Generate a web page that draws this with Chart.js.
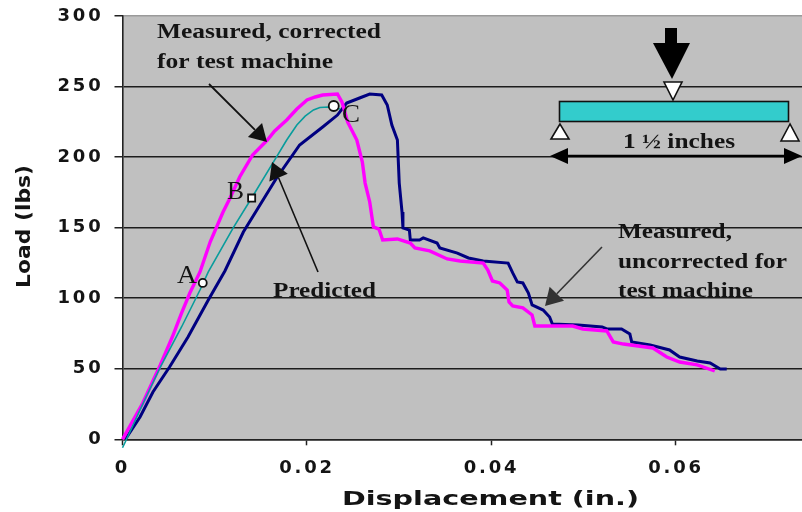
<!DOCTYPE html>
<html>
<head>
<meta charset="utf-8">
<style>
html, body { margin: 0; background: #fff; }
canvas { display: block; filter: blur(0.4px); }
</style>
<script src="https://cdn.jsdelivr.net/npm/chart.js@4"></script>
</head>
<body>
<canvas id="chart" width="802" height="512"></canvas>
<script>
// values
const correctedX = [0, .0022, .0041, .0054, .0064, .0073, .0084, .0095, .0109, .0117, .0127, .0141, .0157, .0165, .0178, .0189, .02, .0209, .0217, .0233, .0238, .0244, .0254, .026, .0263, .0268, .0272, .0278, .0282, .0298, .0312, .0317, .0333, .0352, .0366, .0391, .0396, .0401, .0409, .0417, .0419, .0423, .0434, .0444, .0447, .0474, .0488, .0499, .0525, .0532, .0543, .0575, .059, .0604, .0623, .0642]
const correctedY = [0, 25.7, 52.7, 72.5, 89.5, 103.7, 118.6, 139.8, 161.1, 171.6, 185.9, 201.5, 212.1, 218.5, 226.3, 234.1, 240.5, 242.6, 244, 244.7, 239, 224.9, 212.1, 196.5, 181.6, 168.2, 150.5, 149, 141.2, 142, 139.1, 135.6, 133.5, 127.8, 126.4, 124.9, 120, 112.2, 110.8, 105.8, 97.3, 94.5, 93.1, 88.1, 80.3, 80.3, 80.3, 78.2, 76.8, 69, 67.5, 64.7, 58.3, 54.8, 52.7, 48.4]

const uncorrectedX = [.0003, .0019, .0033, .0051, .0071, .0093, .0111, .0131, .0149, .0167, .0192, .0217, .0233, .0243, .0257, .0268, .0281, .0287, .0292, .0298, .03, .0303, .0304, .0311, .0312, .0322, .0326, .0341, .0344, .0363, .0375, .0391, .0418, .0423, .0428, .0434, .044, .0444, .0456, .0463, .0466, .0494, .052, .0525, .0541, .055, .0552, .0572, .0593, .0604, .0623, .0637, .0648, .0655]
const uncorrectedY = [0, 15.8, 33.5, 51.2, 72.5, 98.7, 119.3, 146.9, 166.1, 185.2, 208.6, 221.3, 229.8, 238.3, 241.9, 244.7, 244, 236.9, 222.7, 212.1, 181.6, 161.1, 149.8, 148.3, 141.2, 141.2, 142.7, 139.1, 135.6, 132, 128.5, 126.4, 124.9, 117.9, 111.5, 110.8, 103.7, 95.2, 91.6, 86.7, 81.7, 81, 79.6, 78.2, 78.2, 74.6, 69, 66.8, 63.3, 58.3, 55.5, 54.1, 49.8, 49.8]

const predictedX = [0, .0003, .0019, .0041, .0064, .0084, .0093, .012, .014, .0167, .0178, .0189, .0198, .0207, .0214, .0223, .0236]
const predictedY = [-6, -1.9, 20.8, 51.2, 79.6, 105.8, 118.6, 149.8, 171, 200.1, 212.1, 222.7, 229, 233.4, 235.1, 235.5, 234.1]

const pointX = [.0087, .014, .0229]
const pointY = [110.8, 171, 236.2]
const pointShape = ["circle", "rect", "circle"]
const pointSize = [4, 5, 5]

const xTicks = [0, .02, .04, .06]
const yTicks = [0, 50, 100, 150, 200, 250, 300]

function toXY(xs, ys) {
    return xs.map((x, i) => ({ x: x, y: ys[i] }))
}

const serif = '"Liberation Serif"'
const sans = '"DejaVu Sans"'
const ink = "#141414"

// text stretched sideways to a given width, the source picture is widened
function wideText(ctx, text, x, y, font, width, color) {
    ctx.save()
    ctx.font = font
    ctx.fillStyle = color || ink
    ctx.textAlign = "left"
    ctx.textBaseline = "alphabetic"
    let w = ctx.measureText(text).width
    ctx.translate(x, y)
    ctx.scale(width / w, 1)
    ctx.fillText(text, 0, 0)
    ctx.restore()
}

function arrow(ctx, x1, y1, x2, y2, len, half, lineW, color) {
    let a = Math.atan2(y2 - y1, x2 - x1)
    let bx = x2 - Math.cos(a) * len
    let by = y2 - Math.sin(a) * len
    ctx.strokeStyle = color
    ctx.fillStyle = color
    ctx.lineWidth = lineW
    ctx.beginPath()
    ctx.moveTo(x1, y1)
    ctx.lineTo(bx, by)
    ctx.stroke()
    ctx.beginPath()
    ctx.moveTo(x2, y2)
    ctx.lineTo(bx - Math.sin(a) * half, by + Math.cos(a) * half)
    ctx.lineTo(bx + Math.sin(a) * half, by - Math.cos(a) * half)
    ctx.closePath()
    ctx.fill()
}

function triangle(ctx, x1, y1, x2, y2, x3, y3) {
    ctx.beginPath()
    ctx.moveTo(x1, y1)
    ctx.lineTo(x2, y2)
    ctx.lineTo(x3, y3)
    ctx.closePath()
    ctx.fillStyle = "#fff"
    ctx.strokeStyle = "#111"
    ctx.lineWidth = 1.6
    ctx.fill()
    ctx.stroke()
}

// layout leaves a few px on the right, the plot runs to the canvas edge here
const fullWidth = {
    id: "fullWidth",
    afterLayout(chart) {
        let x = chart.scales.x
        chart.chartArea.right = chart.width
        chart.chartArea.width = chart.width - chart.chartArea.left
        x.right = chart.width
        x.width = chart.width - x.left
        x.configure()
    }
}

const plotBack = {
    id: "plotBack",
    beforeDraw(chart) {
        let c = chart.ctx
        let a = chart.chartArea
        c.save()
        c.fillStyle = "#c0c0c0"
        c.fillRect(a.left, a.top, a.right - a.left, a.bottom - a.top)
        c.restore()
        // tick labels in the source are wider than any installed font
        c.letterSpacing = "2.8px"
    }
}

const notes = {
    id: "notes",
    afterDraw(chart) {
        let c = chart.ctx
        c.letterSpacing = "0px"
        c.save()

        wideText(c, "Displacement (in.)", 342, 505, "bold 19px " + sans, 297)
        c.save()
        c.translate(30, 288)
        c.rotate(-Math.PI / 2)
        wideText(c, "Load (lbs)", 0, 0, "bold 20px " + sans, 123)
        c.restore()

        wideText(c, "Measured, corrected", 157, 38, "bold 22px " + serif, 224)
        wideText(c, "for test machine", 157, 68, "bold 22px " + serif, 176)
        wideText(c, "Predicted", 273, 297, "bold 22px " + serif, 103)
        wideText(c, "Measured,", 618, 238, "bold 22px " + serif, 114)
        wideText(c, "uncorrected for", 618, 268, "bold 22px " + serif, 169)
        wideText(c, "test machine", 618, 297, "bold 22px " + serif, 135)
        wideText(c, "A", 177, 283, "26px " + serif, 20)
        wideText(c, "B", 227, 199, "26px " + serif, 17)
        wideText(c, "C", 342, 122, "26px " + serif, 18)

        arrow(c, 209, 84, 267, 142, 17, 10, 1.8, "#111")
        arrow(c, 318, 272, 272, 162, 17, 10, 1.6, "#111")
        arrow(c, 602, 247, 545, 306, 17, 10, 1.6, "#333")

        // beam sketch
        c.fillStyle = "#33cccc"
        c.strokeStyle = "#111"
        c.lineWidth = 1.6
        c.fillRect(559.5, 101.5, 229, 20)
        c.strokeRect(559.5, 101.5, 229, 20)
        triangle(c, 664, 82, 682, 82, 673, 100)
        triangle(c, 560, 124, 551, 139, 569, 139)
        triangle(c, 790, 124, 781, 141, 799, 141)

        c.fillStyle = "#000"
        c.fillRect(665, 28, 12, 16)
        c.beginPath()
        c.moveTo(653, 43)
        c.lineTo(690, 43)
        c.lineTo(672, 79)
        c.closePath()
        c.fill()

        wideText(c, "1 \u00bd inches", 623, 148, "bold 22px " + serif, 112)
        arrow(c, 568, 156, 550, 156, 18, 8, 2.4, "#000")
        arrow(c, 784, 156, 802, 156, 18, 8, 2.4, "#000")
        c.strokeStyle = "#000"
        c.lineWidth = 2.4
        c.beginPath()
        c.moveTo(566, 156)
        c.lineTo(786, 156)
        c.stroke()

        c.restore()
    }
}

new Chart(document.getElementById("chart"), {
    type: "scatter",
    data: {
        datasets: [
            {
                label: "Measured, uncorrected",
                data: toXY(uncorrectedX, uncorrectedY),
                showLine: true,
                borderColor: "#000080",
                borderWidth: 3,
                pointRadius: 0,
                clip: false,
                order: 4
            },
            {
                label: "Measured, corrected",
                data: toXY(correctedX, correctedY),
                showLine: true,
                borderColor: "#ff00ff",
                borderWidth: 3.4,
                pointRadius: 0,
                clip: false,
                order: 3
            },
            {
                label: "Predicted",
                data: toXY(predictedX, predictedY),
                showLine: true,
                borderColor: "#089c9c",
                borderWidth: 1.6,
                pointRadius: 0,
                clip: false,
                order: 2
            },
            {
                label: "Points",
                data: toXY(pointX, pointY),
                showLine: false,
                pointStyle: pointShape,
                pointRadius: pointSize,
                pointBackgroundColor: "#fff",
                pointBorderColor: "#111",
                pointBorderWidth: 1.8,
                clip: false,
                order: 1
            }
        ]
    },
    options: {
        responsive: false,
        animation: false,
        layout: { padding: { top: 16, left: 0, right: 0, bottom: 0 } },
        plugins: { legend: { display: false }, tooltip: { enabled: false } },
        scales: {
            x: {
                type: "linear",
                min: 0,
                max: .07366,
                afterBuildTicks(axis) {
                    axis.ticks = xTicks.map(v => ({ value: v }))
                },
                afterFit(axis) {
                    axis.height = 72.7
                    axis.paddingLeft = 0
                    axis.paddingRight = 0
                },
                border: { color: "#222", width: 1.6 },
                grid: { drawOnChartArea: false, tickLength: 6, tickColor: "#222", tickWidth: 1.5 },
                ticks: {
                    color: ink,
                    padding: 12,
                    maxRotation: 0,
                    autoSkip: false,
                    font: { family: "DejaVu Sans", weight: "bold", size: 18 },
                    callback: v => v === 0 ? "0" : v.toFixed(2)
                }
            },
            y: {
                min: 0,
                max: 300,
                afterBuildTicks(axis) {
                    axis.ticks = yTicks.map(v => ({ value: v }))
                },
                afterFit(axis) {
                    axis.width = 122.5
                    axis.paddingTop = 0
                    axis.paddingBottom = 0
                },
                border: { color: "#222", width: 1.6 },
                grid: {
                    color: c => c.tick.value === 300 ? "#9a9a9a" : "#1c1c1c",
                    lineWidth: 1.5,
                    tickLength: 8,
                    tickColor: "#222",
                    tickWidth: 1.5
                },
                ticks: {
                    color: ink,
                    padding: 11,
                    autoSkip: false,
                    font: { family: "DejaVu Sans", weight: "bold", size: 18 }
                }
            }
        }
    },
    plugins: [fullWidth, plotBack, notes]
})
</script>
</body>
</html>
